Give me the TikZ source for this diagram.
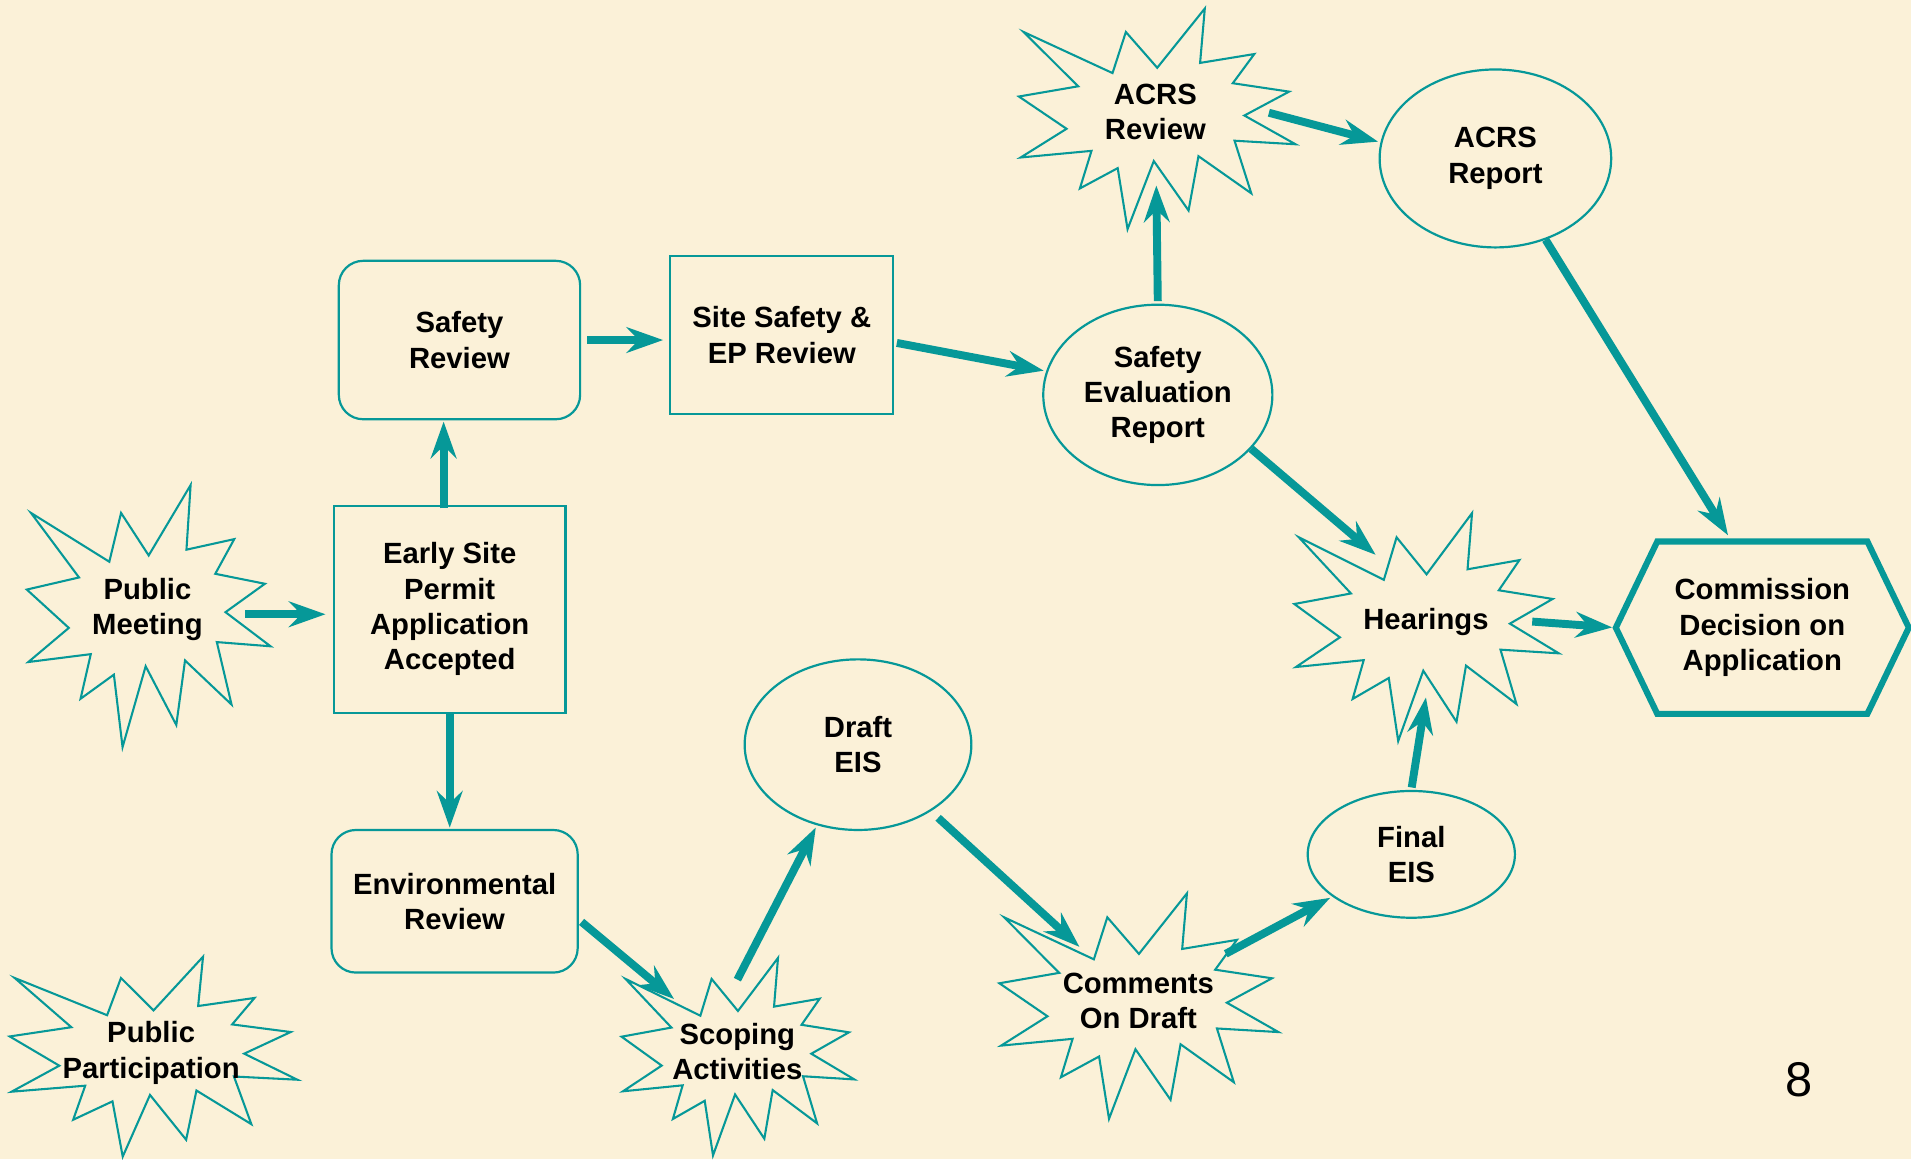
\documentclass[tikz,border=0pt]{standalone}
\usepackage{fontspec}
\setmainfont{Liberation Sans}
\usetikzlibrary{shapes.geometric,arrows.meta,calc}
\definecolor{bg}{RGB}{251,241,216}
\definecolor{tl}{RGB}{6,152,152}
% explosion outline: center x, center y, width, height
\newcommand\burst[4]{%
  \draw[burstline, shift={(#1,#2)}, xscale=#3, yscale=#4]
    (0,-0.2315) -- (0.172,-0.5) -- (0.155,-0.2535) -- (0.351,-0.2937) --
    (0.2732,-0.1614) -- (0.4767,-0.1233) -- (0.3151,-0.015) -- (0.5,0.1153) --
    (0.2795,0.0992) -- (0.34,0.3377) -- (0.1491,0.1693) -- (0.1133,0.4156) --
    (-0.0124,0.1914) -- (-0.1072,0.5) -- (-0.1428,0.2235) -- (-0.2795,0.3156) --
    (-0.2376,0.1452) -- (-0.49375,0.1753) -- (-0.3277,0.0451) -- (-0.5,-0.1012) --
    (-0.2858,-0.1474) -- (-0.4829,-0.3937) -- (-0.1615,-0.2074) -- (-0.1133,-0.3937) -- cycle;}
\begin{document}
\begin{tikzpicture}[x=1pt,y=-1pt,
  lbl/.style={font=\bfseries\fontsize{24}{29}\selectfont, align=center, inner sep=0pt, text=black},
  box/.style={lbl, rectangle, draw=tl, line width=1.8pt},
  rbox/.style={box, rounded corners=20pt},
  ell/.style={lbl, ellipse, draw=tl, line width=1.8pt},
  burstnode/.style={lbl, ellipse},
  burstline/.style={draw=tl, line width=1.7pt, line join=miter},
  hexline/.style={draw=tl, line width=5pt, line join=miter},
  arr/.style={draw=tl, line width=6.5pt, -{Stealth[length=30pt,width=21pt,inset=10pt]}},
]
\useasboundingbox (0,0) rectangle (1568,951);
\fill[bg] (0,0) rectangle (1568,951);

% explosion shapes
\burst{122}{505.5}{200}{215}
\burst{126}{867}{236}{164}
\burst{605.5}{867}{191}{162}
\burst{934.5}{825.5}{229}{185}
\burst{949.5}{97.5}{227}{181}
\burst{1170.5}{514.5}{217}{187}

% burst labels
\node[burstnode, minimum width=160, minimum height=140] (pm) at (121,500) {Public\\Meeting};
\node[lbl] (pp) at (124,864) {Public\\Participation};
\node[burstnode, minimum width=152, minimum height=118] (scop) at (605,863) {Scoping\\Activities};
\node[burstnode, minimum width=184, minimum height=122] (comm) at (934,821) {Comments\\On Draft};
\node[burstnode, minimum width=182, minimum height=120] (acrsrev) at (948,92) {ACRS\\Review};
\node[burstnode, minimum width=174, minimum height=124] (hear) at (1170,510) {Hearings};

% boxes
\node[rbox, minimum width=198, minimum height=130] (sr) at (377,279) {Safety\\Review};
\node[box, minimum width=183, minimum height=130] (ssep) at (641.5,275) {Site Safety \&\\EP Review};
\node[box, minimum width=190, minimum height=170] (esp) at (369,500) {Early Site\\Permit\\Application\\Accepted};
\node[rbox, minimum width=202, minimum height=117] (er) at (373,739.5) {Environmental\\Review};

% ellipses
\node[ell, minimum width=190, minimum height=146] (acrsrep) at (1227,130) {ACRS\\Report};
\node[ell, minimum width=188, minimum height=148] (ser) at (950,324) {Safety\\Evaluation\\Report};
\node[ell, minimum width=186, minimum height=140] (draft) at (704,611) {Draft\\EIS};
\node[ell, minimum width=170, minimum height=104] (final) at (1158,701) {Final\\EIS};

% hexagon
\node[lbl, minimum width=240, minimum height=141] (cd) at (1446,515) {Commission\\Decision on\\Application};
\draw[hexline] (cd.west) -- ($(cd.north west)+(34,0)$) -- ($(cd.north east)+(-34,0)$)
  -- (cd.east) -- ($(cd.south east)+(-34,0)$) -- ($(cd.south west)+(34,0)$) -- cycle;

% page number
\node[font=\fontsize{40}{48}\selectfont, inner sep=0pt] (pg) at (1476,886) {8};

% connectors
\coordinate (cdtop) at ($(cd.north)+(-25,0)$);
\draw[arr, shorten >=6pt] ([yshift=-4pt]pm.east) -- ([yshift=-4pt]pm.east -| esp.west);
\draw[arr, shorten <=-3pt, shorten >=1pt] ([xshift=-5pt]esp.north) -- ([xshift=-5pt]esp.north |- sr.south);
\draw[arr, shorten >=1pt] (esp.south) -- (esp.south |- er.north);
\draw[arr, shorten <=5pt, shorten >=5pt] (sr.east) -- (sr.east -| ssep.west);
\draw[arr, shorten <=2pt, shorten >=2pt] ([yshift=-6pt]ssep.east) -- (ser.168);
\draw[arr, shorten <=2pt] (ser.north) -- (acrsrev);
\draw[arr, shorten <=2pt, shorten >=2pt] (acrsrev.east) -- (acrsrep.172);
\draw[arr, shorten >=6pt] (acrsrep) -- (cdtop);
\draw[arr] (ser.330) -- (hear.127);
\draw[arr, shorten >=3pt] (hear.east) -- (cd.west);
\draw[arr, shorten <=3pt] ([yshift=-15pt]er.east) -- (scop);
\draw[arr, shorten >=2pt] (scop.north) -- (draft.243);
\draw[arr, shorten <=8pt, shorten >=-8pt] (draft) -- (comm);
\draw[arr, shorten >=2pt] (comm) -- (final);
\draw[arr, shorten <=2pt] (final.north) -- (hear.south);
\end{tikzpicture}
\end{document}
